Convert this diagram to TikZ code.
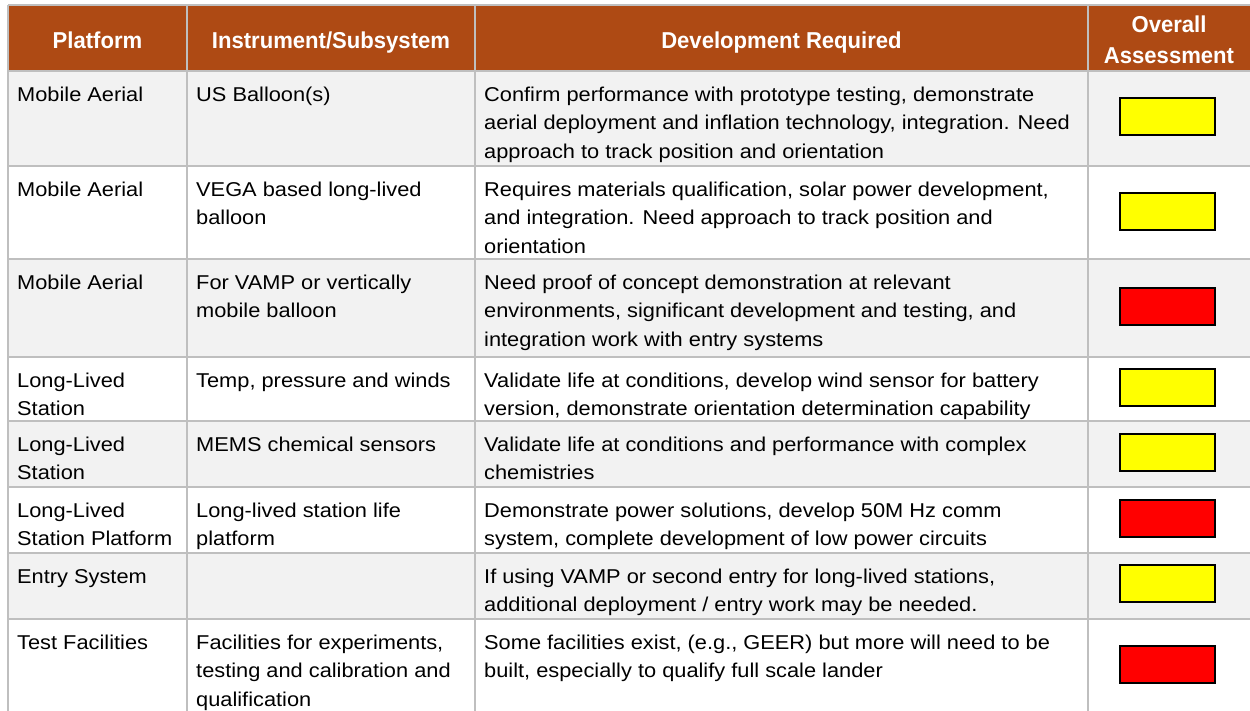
\documentclass[tikz,border=0pt]{standalone}
\usepackage{fontspec}
\setmainfont[FakeStretch=1.09]{Liberation Sans}
\newfontfamily\hdrfont[FakeStretch=0.96]{Liberation Sans}
\definecolor{hdrc}{RGB}{174,74,20}
\definecolor{gridc}{RGB}{191,191,191}
\definecolor{rowgray}{RGB}{242,242,242}
\definecolor{ylw}{RGB}{255,255,0}
\definecolor{rd}{RGB}{255,0,0}
\begin{document}
\begin{tikzpicture}[x=1pt,y=-1pt,
  cell/.style={anchor=north west, inner sep=0pt, align=left, text=black, font=\fontsize{20}{28.8}\selectfont},
  head/.style={anchor=base, inner sep=0pt, align=center, text=white, font=\hdrfont\bfseries\fontsize{23}{31}\selectfont},
  rating/.style={draw=black, line width=2pt, minimum width=95pt, minimum height=37pt, inner sep=0pt},
  gridline/.style={draw=gridc, line width=2pt}]
\useasboundingbox (0,0) rectangle (1250,710);
\clip (0,0) rectangle (1250,710);
\fill[white] (0,0) rectangle (1250,710);
% header and row shading
\fill[hdrc] (8,5) rectangle (1250,71);
\fill[rowgray] (8,71) rectangle (1250,166);
\fill[rowgray] (8,259) rectangle (1250,357);
\fill[rowgray] (8,421) rectangle (1250,487);
\fill[rowgray] (8,553) rectangle (1250,619);
% grid
\foreach \y in {5,71,166,259,357,421,487,553,619}
  \draw[gridline] (8,\y) -- (1250,\y);
\foreach \x in {8,187,475,1088}
  \draw[gridline] (\x,5) -- (\x,712);
% header
\node[head] (h1) at (97.5,48) {Platform};
\node[head] (h2) at (331,48) {Instrument/Subsystem};
\node[head] (h3) at (781.5,48) {Development Required};
\node[head] (h4) at (1169,63) {Overall\\Assessment};
% row 1 (top 71)
\node[cell] (a1) at (17,80.8) {\strut Mobile Aerial};
\node[cell] (b1) at (196,80.8) {\strut US Balloon(s)};
\node[cell] (c1) at (484,80.8) {\strut Confirm performance with prototype testing, demonstrate\\aerial deployment and inflation technology, integration. Need\\approach to track position and orientation};
\node[rating, fill=ylw] (r1) at (1167.5,116.5) {};
% row 2 (top 166)
\node[cell] (a2) at (17,175.8) {\strut Mobile Aerial};
\node[cell] (b2) at (196,175.8) {\strut VEGA based long-lived\\balloon};
\node[cell] (c2) at (484,175.8) {\strut Requires materials qualification, solar power development,\\and integration. Need approach to track position and\\orientation};
\node[rating, fill=ylw] (r2) at (1167.5,211.5) {};
% row 3 (top 259)
\node[cell] (a3) at (17,268.8) {\strut Mobile Aerial};
\node[cell] (b3) at (196,268.8) {\strut For VAMP or vertically\\mobile balloon};
\node[cell] (c3) at (484,268.8) {\strut Need proof of concept demonstration at relevant\\environments, significant development and testing, and\\integration work with entry systems};
\node[rating, fill=rd] (r3) at (1167.5,306.5) {};
% row 4 (top 357)
\node[cell] (a4) at (17,366.8) {\strut Long-Lived\\Station};
\node[cell] (b4) at (196,366.8) {\strut Temp, pressure and winds};
\node[cell] (c4) at (484,366.8) {\strut Validate life at conditions, develop wind sensor for battery\\version, demonstrate orientation determination capability};
\node[rating, fill=ylw] (r4) at (1167.5,387.5) {};
% row 5 (top 421)
\node[cell] (a5) at (17,430.8) {\strut Long-Lived\\Station};
\node[cell] (b5) at (196,430.8) {\strut MEMS chemical sensors};
\node[cell] (c5) at (484,430.8) {\strut Validate life at conditions and performance with complex\\chemistries};
\node[rating, fill=ylw] (r5) at (1167.5,452.5) {};
% row 6 (top 487)
\node[cell] (a6) at (17,496.8) {\strut Long-Lived\\Station Platform};
\node[cell] (b6) at (196,496.8) {\strut Long-lived station life\\platform};
\node[cell] (c6) at (484,496.8) {\strut Demonstrate power solutions, develop 50M Hz comm\\system, complete development of low power circuits};
\node[rating, fill=rd] (r6) at (1167.5,518.5) {};
% row 7 (top 553)
\node[cell] (a7) at (17,562.8) {\strut Entry System};
\node[cell] (c7) at (484,562.8) {\strut If using VAMP or second entry for long-lived stations,\\additional deployment / entry work may be needed.};
\node[rating, fill=ylw] (r7) at (1167.5,583.5) {};
% row 8 (top 619)
\node[cell] (a8) at (17,628.8) {\strut Test Facilities};
\node[cell] (b8) at (196,628.8) {\strut Facilities for experiments,\\testing and calibration and\\qualification};
\node[cell] (c8) at (484,628.8) {\strut Some facilities exist, (e.g., GEER) but more will need to be\\built, especially to qualify full scale lander};
\node[rating, fill=rd] (r8) at (1167.5,664.5) {};
\end{tikzpicture}
\end{document}
